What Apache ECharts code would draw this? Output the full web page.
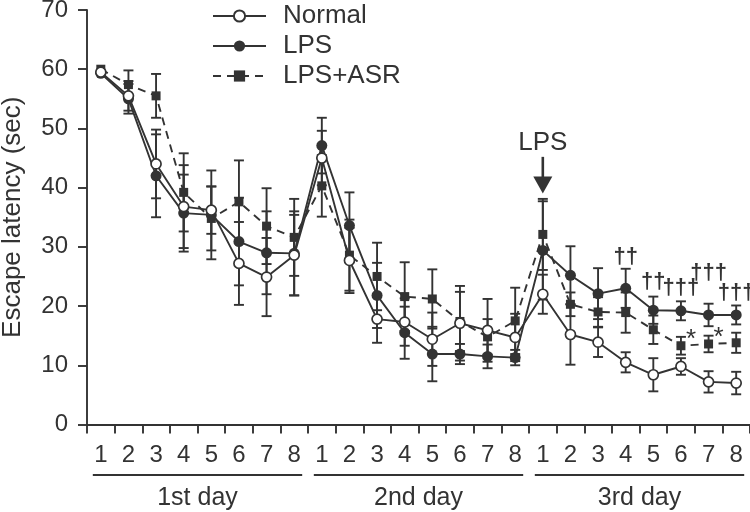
<!DOCTYPE html>
<html>
<head>
<meta charset="utf-8">
<script src="https://cdn.jsdelivr.net/npm/echarts@6/dist/echarts.min.js"></script>
<style>html,body{margin:0;padding:0;background:#fff}#c{width:750px;height:512px}</style>
</head>
<body>
<div id="c"></div>
<script>
const days = ['1st day', '2nd day', '3rd day'];
const trials = ['1', '2', '3', '4', '5', '6', '7', '8'];
const yTicks = [0, 10, 20, 30, 40, 50, 60, 70];

const normalMean = [59.5, 55.5, 44.0, 36.8, 36.2, 27.2, 24.9, 28.6, 45.0, 27.7, 17.8, 17.3, 14.4, 17.1, 15.9, 14.7, 22.0, 15.2, 13.9, 10.5, 8.4, 9.8, 7.2, 7.0];
const normalErr  = [0, 2.5, 5.8, 7.0, 4.0, 7.0, 6.6, 6.8, 4.6, 5.5, 4.0, 4.0, 4.5, 6.3, 5.3, 4.0, 3.3, 5.1, 2.5, 1.7, 2.8, 1.4, 1.8, 1.9];
const lpsMean    = [59.3, 55.0, 42.0, 35.7, 35.4, 30.9, 29.0, 28.9, 47.1, 33.6, 21.8, 15.5, 11.9, 11.9, 11.5, 11.3, 29.4, 25.2, 22.1, 23.0, 19.3, 19.2, 18.5, 18.5];
const lpsErr     = [0, 2.5, 7.0, 6.5, 7.5, 7.4, 7.0, 7.1, 4.7, 5.6, 5.5, 4.4, 4.6, 1.7, 2.0, 1.3, 8.3, 4.9, 4.3, 3.3, 2.3, 1.6, 1.9, 1.6];
const asrMean    = [60.0, 57.4, 55.5, 39.2, 34.8, 37.6, 33.5, 31.6, 40.3, 28.6, 25.0, 21.6, 21.2, 17.4, 14.8, 17.5, 32.1, 20.3, 19.0, 18.9, 16.0, 13.3, 13.6, 13.8];
const asrErr     = [0, 2.4, 3.7, 6.6, 5.4, 7.0, 6.4, 6.5, 5.2, 6.0, 5.7, 5.8, 5.0, 5.0, 3.0, 5.6, 6.0, 2.0, 2.5, 3.4, 2.4, 1.5, 1.4, 1.7];

// significance marks: [category index, y position (sec), text]
const daggerIdx  = [19, 20, 21, 22, 23];
const daggerY    = [28.3, 24.1, 23.0, 25.6, 22.2];
const daggerText = ['††', '††', '†††', '†††', '†††'];
const starIdx  = [21, 22];
const starY    = [14.3, 14.7];
// LPS injection arrow: [category index, top, tip]; label y
const arrowIdx = 16, arrowTop = 45.2, arrowTip = 39.0, arrowLabelY = 47.6;

const INK = '#333';
const FONT = "'Liberation Sans', Arial, Helvetica, sans-serif";

const categories = [];
days.forEach(d => trials.forEach(t => categories.push(d + '|' + t)));

function errData(mean, err) {
  const out = [];
  mean.forEach((m, i) => { if (err[i] > 0) out.push([i, m - err[i], m + err[i]]); });
  return out;
}

function errRender(params, api) {
  const i = api.value(0);
  const lo = api.coord([i, api.value(1)]);
  const hi = api.coord([i, api.value(2)]);
  const w = 5;
  const st = { stroke: INK, lineWidth: 1.9, fill: null };
  return {
    type: 'group',
    children: [
      { type: 'line', shape: { x1: lo[0], y1: lo[1], x2: hi[0], y2: hi[1] }, style: st },
      { type: 'line', shape: { x1: lo[0] - w, y1: lo[1], x2: lo[0] + w, y2: lo[1] }, style: st },
      { type: 'line', shape: { x1: hi[0] - w, y1: hi[1], x2: hi[0] + w, y2: hi[1] }, style: st }
    ]
  };
}

function errSeries(mean, err) {
  return {
    type: 'custom', renderItem: errRender, data: errData(mean, err),
    encode: { x: 0, y: [1, 2] }, z: 2, silent: true, clip: false
  };
}

const chart = echarts.init(document.getElementById('c'), null, { renderer: 'canvas' });

const labelSeriesBase = { type: 'scatter', symbolSize: 0, z: 6, silent: true, itemStyle: { opacity: 1 } };

const option = {
  animation: false,
  backgroundColor: '#fff',
  textStyle: { fontFamily: FONT, color: INK },
  grid: { left: 87, right: 0, top: 10, bottom: 87.5, containLabel: false, outerBoundsMode: 'none' },
  legend: {
    orient: 'vertical', left: 212, top: 3, padding: 0, itemWidth: 53, itemHeight: 14, itemGap: 4,
    textStyle: { fontFamily: FONT, fontSize: 26, color: INK, lineHeight: 25, padding: [0, 0, 0, 12] },
    data: ['Normal', 'LPS', 'LPS+ASR']
  },
  xAxis: {
    type: 'category', data: categories, boundaryGap: true,
    axisLine: { lineStyle: { color: INK, width: 1.9 } },
    axisTick: { show: true, interval: 0, length: 9, lineStyle: { color: INK, width: 1.9 } },
    axisLabel: { interval: 0, margin: 19, fontSize: 24, color: INK, fontFamily: FONT,
      formatter: v => v.split('|')[1] },
    splitLine: { show: false }
  },
  yAxis: {
    type: 'value', min: yTicks[0], max: yTicks[yTicks.length - 1], interval: 10,
    name: 'Escape latency (sec)', nameLocation: 'middle', nameGap: 61,
    nameTextStyle: { fontSize: 26, color: INK, fontFamily: FONT },
    axisLine: { show: true, lineStyle: { color: INK, width: 1.9 } },
    axisTick: { show: true, length: 9, lineStyle: { color: INK, width: 1.9 } },
    axisLabel: { margin: 19, fontSize: 24, color: INK, fontFamily: FONT },
    splitLine: { show: false }
  },
  series: [
    errSeries(normalMean, normalErr),
    errSeries(lpsMean, lpsErr),
    errSeries(asrMean, asrErr),
    {
      name: 'LPS+ASR', type: 'line', data: asrMean, z: 3,
      symbol: 'rect', symbolSize: 9, showAllSymbol: true,
      lineStyle: { color: INK, width: 1.9, type: [8, 6] },
      itemStyle: { color: INK, borderColor: INK, borderWidth: 0 }
    },
    {
      name: 'LPS', type: 'line', data: lpsMean, z: 4,
      symbol: 'circle', symbolSize: 11, showAllSymbol: true,
      lineStyle: { color: INK, width: 1.9 },
      itemStyle: { color: INK, borderColor: INK, borderWidth: 0 }
    },
    {
      name: 'Normal', type: 'line', data: normalMean, z: 5,
      symbol: 'circle', symbolSize: 10, showAllSymbol: true,
      lineStyle: { color: INK, width: 1.9 },
      itemStyle: { color: '#fff', borderColor: INK, borderWidth: 1.7 }
    },
    Object.assign({}, labelSeriesBase, {
      data: daggerIdx.map((x, i) => ({ value: [x, daggerY[i]], label: { formatter: daggerText[i] } })),
      label: { show: true, position: 'inside', fontSize: 22, color: INK, fontFamily: FONT, fontWeight: 'bold' }
    }),
    Object.assign({}, labelSeriesBase, {
      data: starIdx.map((x, i) => [x, starY[i]]),
      label: { show: true, position: 'inside', offset: [10, 0], formatter: '*', fontSize: 26, color: INK, fontFamily: FONT }
    }),
    Object.assign({}, labelSeriesBase, {
      data: [[arrowIdx, arrowLabelY]],
      label: { show: true, position: 'inside', formatter: 'LPS', fontSize: 26, color: INK, fontFamily: FONT }
    }),
    {
      type: 'custom', z: 6, silent: true, clip: false,
      data: [[arrowIdx, arrowTop, arrowTip]],
      encode: { x: 0, y: [1, 2] },
      renderItem: function (params, api) {
        const top = api.coord([api.value(0), api.value(1)]);
        const tip = api.coord([api.value(0), api.value(2)]);
        const headH = 17, headW = 9.5;
        return {
          type: 'group',
          children: [
            { type: 'line', shape: { x1: top[0], y1: top[1], x2: tip[0], y2: tip[1] - headH + 1 },
              style: { stroke: INK, lineWidth: 2.6 } },
            { type: 'polygon', shape: { points: [[tip[0] - headW, tip[1] - headH], [tip[0] + headW, tip[1] - headH], [tip[0], tip[1]]] },
              style: { fill: INK } }
          ]
        };
      }
    }
  ]
};
chart.setOption(option);

// day group underlines and labels below the trial numbers
const base = chart.convertToPixel({ yAxisIndex: 0 }, 0);
const g = [];
days.forEach((d, k) => {
  const x1 = chart.convertToPixel({ xAxisIndex: 0 }, categories[k * 8]) - 8;
  const x2 = chart.convertToPixel({ xAxisIndex: 0 }, categories[k * 8 + 7]) + 8;
  g.push({ type: 'line', shape: { x1: x1, y1: base + 50.5, x2: x2, y2: base + 50.5 }, style: { stroke: INK, lineWidth: 1.9 } });
  g.push({ type: 'text', x: (x1 + x2) / 2, y: base + 73.5,
    style: { text: d, fontSize: 25, fontFamily: FONT, fill: INK, align: 'center', verticalAlign: 'middle' } });
});
chart.setOption({ graphic: g });
</script>
</body>
</html>
